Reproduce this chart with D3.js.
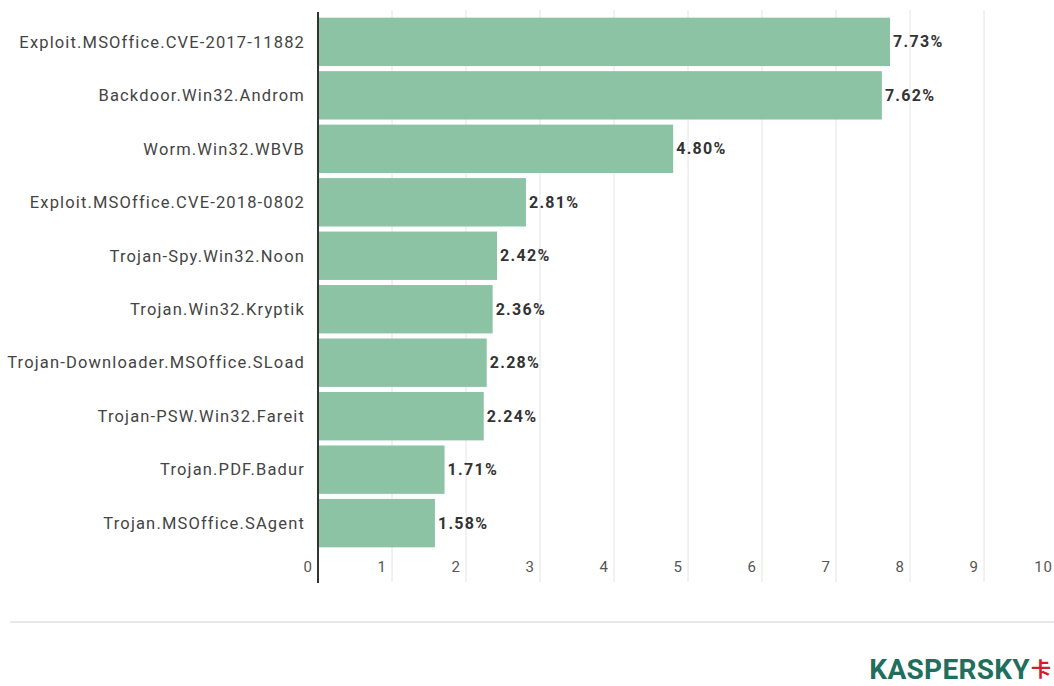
<!DOCTYPE html>
<html>
<head>
<meta charset="utf-8">
<script src="https://cdn.jsdelivr.net/npm/d3@7"></script>
<style>
  body { margin: 0; background: #fff; }
  svg { display: block; }
</style>
</head>
<body>
<div id="chart"></div>
<script>
// data
const categories = [
  'Exploit.MSOffice.CVE-2017-11882',
  'Backdoor.Win32.Androm',
  'Worm.Win32.WBVB',
  'Exploit.MSOffice.CVE-2018-0802',
  'Trojan-Spy.Win32.Noon',
  'Trojan.Win32.Kryptik',
  'Trojan-Downloader.MSOffice.SLoad',
  'Trojan-PSW.Win32.Fareit',
  'Trojan.PDF.Badur',
  'Trojan.MSOffice.SAgent'
];
const values = [7.73, 7.62, 4.80, 2.81, 2.42, 2.36, 2.28, 2.24, 1.71, 1.58];
const xTicks = [0, 1, 2, 3, 4, 5, 6, 7, 8, 9, 10];

const W = 1054, H = 686;
const margin = { top: 15, left: 318 };
const plotRight = 1058, plotBottom = 550;

const svg = d3.select('#chart').append('svg')
  .attr('width', W)
  .attr('height', H);

const x = d3.scaleLinear().domain([0, 10]).range([margin.left, plotRight]);
const y = d3.scaleBand().domain(categories).range([margin.top, plotBottom]).paddingInner(0.095).paddingOuter(0.05);

// gridlines
svg.append('g')
  .selectAll('line')
  .data(xTicks.slice(1))
  .join('line')
  .attr('x1', d => x(d)).attr('x2', d => x(d))
  .attr('y1', 10).attr('y2', 582)
  .attr('stroke', '#e4e4e4')
  .attr('stroke-width', 1);

// tick labels (sit just left of each gridline)
svg.append('g')
  .selectAll('text')
  .data(xTicks)
  .join('text')
  .attr('x', d => x(d) - 5)
  .attr('y', 572)
  .attr('text-anchor', 'end')
  .attr('font-family', 'Roboto, sans-serif')
  .attr('font-size', 15)
  .attr('letter-spacing', 1)
  .attr('fill', '#555')
  .text(d => d);

// bars
svg.append('g')
  .selectAll('rect')
  .data(values)
  .join('rect')
  .attr('x', x(0))
  .attr('y', (d, i) => y(categories[i]))
  .attr('width', d => x(d) - x(0))
  .attr('height', y.bandwidth())
  .attr('fill', '#8cc3a5');

// value labels
svg.append('g')
  .selectAll('text')
  .data(values)
  .join('text')
  .attr('x', d => x(d) + 3)
  .attr('y', (d, i) => y(categories[i]) + y.bandwidth() / 2)
  .attr('dy', '0.35em')
  .attr('font-family', 'Roboto, sans-serif')
  .attr('font-size', 16)
  .attr('letter-spacing', 1.3)
  .attr('font-weight', 'bold')
  .attr('fill', '#333')
  .text(d => d.toFixed(2) + '%');

// category labels
svg.append('g')
  .selectAll('text')
  .data(categories)
  .join('text')
  .attr('x', 305)
  .attr('y', d => y(d) + y.bandwidth() / 2)
  .attr('dy', '0.35em')
  .attr('text-anchor', 'end')
  .attr('font-family', 'Roboto, sans-serif')
  .attr('font-size', 16.5)
  .attr('letter-spacing', 1.15)
  .attr('fill', '#444')
  .text(d => d);

// axis line at zero
svg.append('line')
  .attr('x1', x(0)).attr('x2', x(0))
  .attr('y1', 12).attr('y2', 583)
  .attr('stroke', '#333')
  .attr('stroke-width', 2);

// footer separator
svg.append('line')
  .attr('x1', 10).attr('x2', W)
  .attr('y1', 622).attr('y2', 622)
  .attr('stroke', '#e2e2e2')
  .attr('stroke-width', 1.5);

// logo
svg.append('text')
  .attr('x', 1030)
  .attr('y', 679)
  .attr('text-anchor', 'end')
  .attr('font-family', 'Roboto, sans-serif')
  .attr('font-size', 28)
  .attr('font-weight', 'bold')
  .attr('fill', '#1f6f5e')
  .attr('letter-spacing', 0.3)
  .text('KASPERSKY');

svg.append('text')
  .attr('x', 1031)
  .attr('y', 677)
  .attr('font-family', '"Noto Sans CJK SC", sans-serif')
  .attr('font-size', 20)
  .attr('font-weight', 'bold')
  .attr('fill', '#d0202a')
  .text('卡');
</script>
</body>
</html>
